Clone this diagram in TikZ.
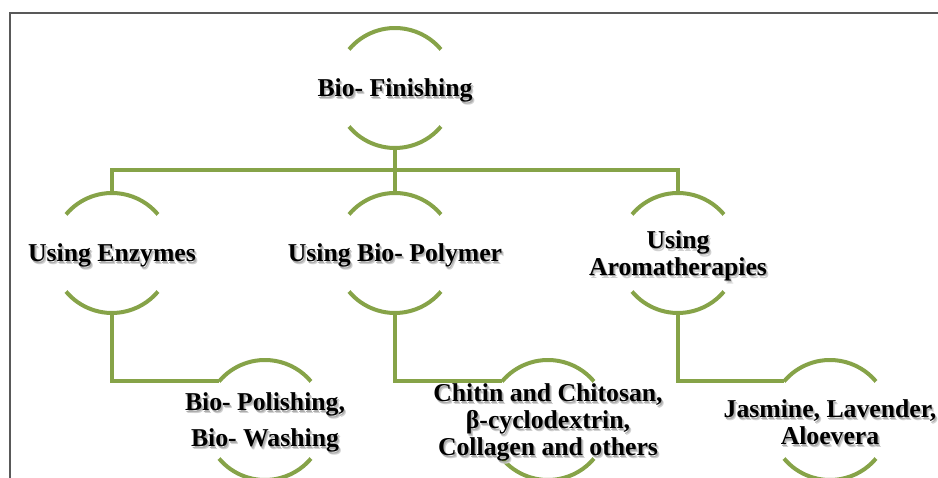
\documentclass[tikz,border=0pt]{standalone}
\usepackage{fontspec}
\setmainfont{Liberation Serif}
\definecolor{leaf}{RGB}{134,163,72}
\newcommand\shd[1]{\leavevmode\rlap{\kern2.2pt\raisebox{-2.8pt}{\textcolor{black!18}{#1}}}\rlap{\kern1.2pt\raisebox{-1.5pt}{\textcolor{black!32}{#1}}}#1}
\pgfdeclarelayer{bg}
\pgfsetlayers{bg,main}
% arcs around a label whose text is set 4pt below the ring centre
\newcommand\rings[1]{%
  \draw[ring] ([shift={(140:60)},yshift=4pt]#1.center) arc[start angle=140,end angle=40,radius=60];
  \draw[ring] ([shift={(220:60)},yshift=4pt]#1.center) arc[start angle=220,end angle=320,radius=60];}
\begin{document}
\begin{tikzpicture}[x=1pt,y=1pt,
  conn/.style={draw=leaf,line width=4pt},
  ring/.style={draw=leaf,line width=4pt},
  lbl/.style={font=\bfseries\fontsize{25.7}{27}\selectfont,align=center,inner sep=0pt,text=black,yshift=-4pt}]
\useasboundingbox (0,0) rectangle (938,478);
\clip (0,0) rectangle (938,478);
% labels
\node[lbl] (T) at (395,390) {\shd{Bio- Finishing}};
\node[lbl] (E) at (112,225) {\shd{Using Enzymes}};
\node[lbl] (P) at (395,225) {\shd{Using Bio- Polymer}};
\node[lbl] (A) at (678,225) {\shd{Using}\\\shd{Aromatherapies}};
\node[lbl] (W) at (265,58) {\shd{Bio- Polishing,}\\[9pt]\shd{Bio- Washing}};
\node[lbl] (C) at (548,58) {\shd{Chitin and Chitosan,}\\\shd{β-cyclodextrin,}\\\shd{Collagen and others}};
\node[lbl] (J) at (830,58) {\shd{Jasmine, Lavender,}\\\shd{Aloevera}};
\coordinate (bar) at (395,308);
\begin{pgfonlayer}{bg}
\fill[white] (0,0) rectangle (938,478);
\draw[black!65,line width=1.5pt] (10,0) -- (10,465) -- (938,465);
\rings{T}\rings{E}\rings{P}\rings{A}\rings{W}\rings{C}\rings{J}
\draw[conn] ([yshift=-56pt]T.center) -- ([yshift=64pt]P.center);
\draw[conn] ([yshift=64pt]E.center) |- (bar) -| ([yshift=64pt]A.center);
\draw[conn] ([yshift=-56pt]E.center) |- ([shift={(140:60)},yshift=4pt]W.center);
\draw[conn] ([yshift=-56pt]P.center) |- ([shift={(140:60)},yshift=4pt]C.center);
\draw[conn] ([yshift=-56pt]A.center) |- ([shift={(140:60)},yshift=4pt]J.center);
\end{pgfonlayer}
\end{tikzpicture}
\end{document}
